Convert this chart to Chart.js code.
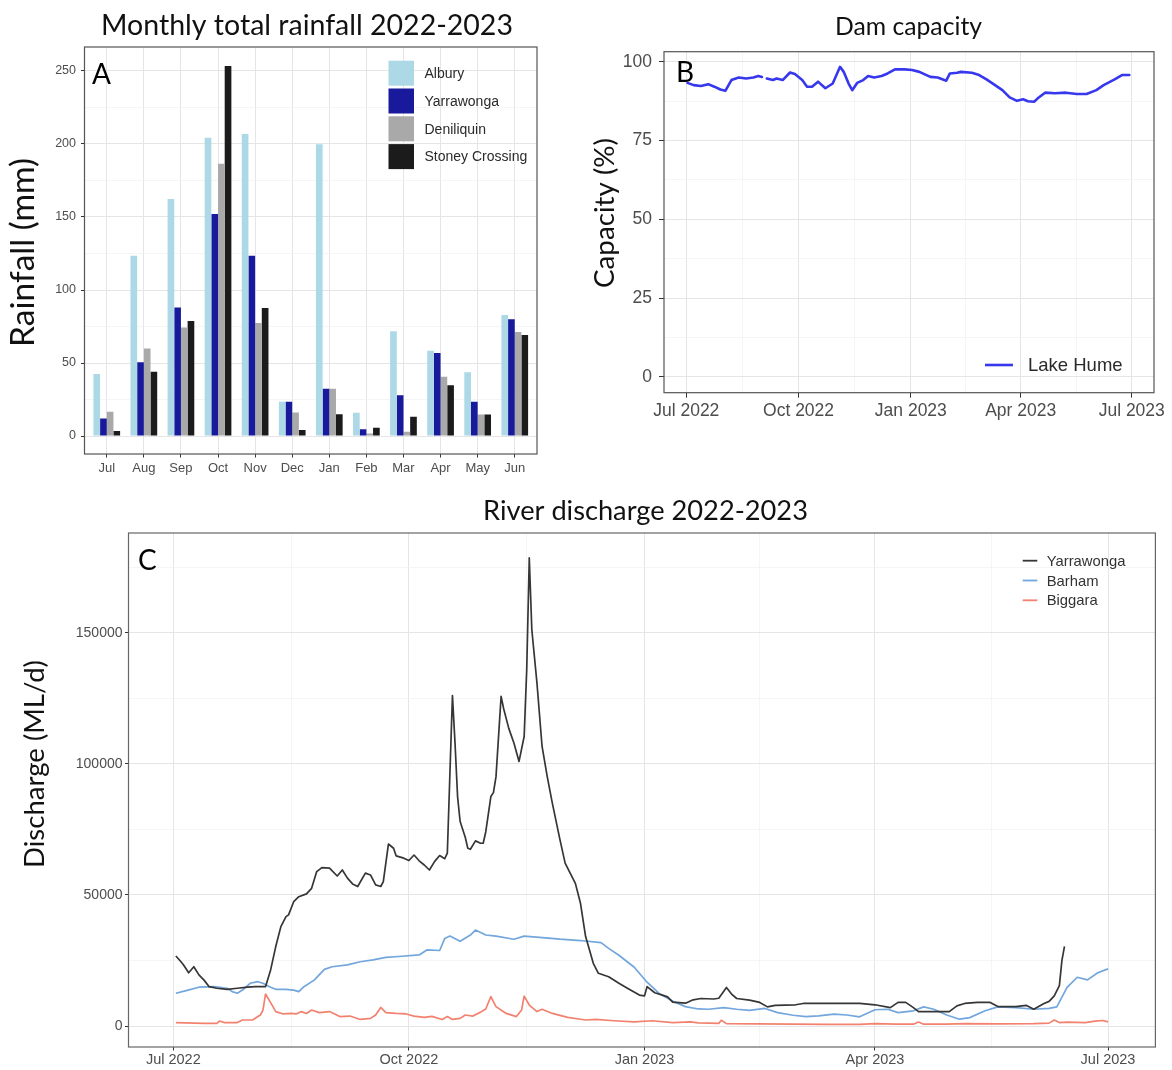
<!DOCTYPE html>
<html><head><meta charset="utf-8">
<script src="https://cdn.jsdelivr.net/npm/chart.js@4.4.1/dist/chart.umd.min.js"></script>
<style>
html,body{margin:0;padding:0;background:#fff;}
#wrap{position:relative;width:1172px;height:1070px;overflow:hidden;background:#fff;}
canvas{position:absolute;left:0;top:0;}
</style></head><body>
<div id="wrap">
<canvas id="cA" width="1172" height="1070"></canvas>
<canvas id="cB" width="1172" height="1070"></canvas>
<canvas id="cC" width="1172" height="1070"></canvas>
</div>
<script>
// ---------------- DATA ----------------
// Panel A: monthly total rainfall (mm)
const months = ['Jul','Aug','Sep','Oct','Nov','Dec','Jan','Feb','Mar','Apr','May','Jun'];
const rainAlbury     = [42.5,123.5,162.3,204.3,206.8,23.5,199.8,16.0,71.7,58.4,43.6,82.9];
const rainYarrawonga = [12.0,50.5,88.0,152.0,123.5,23.5,32.4,4.6,27.9,56.8,23.5,80.0];
const rainDeniliquin = [16.7,60.0,74.4,186.5,77.4,16.2,32.4,1.8,3.0,40.6,14.8,71.2];
const rainStoney     = [3.4,44.0,78.8,253.4,87.7,4.1,15.0,5.7,13.2,34.7,14.8,69.2];

// Panel B: Lake Hume capacity (%)
const humeDates = ['2022-07-02','2022-07-07','2022-07-13','2022-07-19','2022-07-24','2022-07-29','2022-08-02','2022-08-07','2022-08-13','2022-08-19','2022-08-25','2022-08-29','2022-09-01','2022-09-03','2022-09-05','2022-09-10','2022-09-13','2022-09-18','2022-09-24','2022-09-28','2022-10-04','2022-10-08','2022-10-12','2022-10-17','2022-10-20','2022-10-23','2022-10-29','2022-11-04','2022-11-07','2022-11-11','2022-11-14','2022-11-18','2022-11-23','2022-11-27','2022-12-02','2022-12-08','2022-12-13','2022-12-19','2022-12-27','2023-01-02','2023-01-08','2023-01-17','2023-01-23','2023-01-30','2023-02-02','2023-02-08','2023-02-11','2023-02-20','2023-02-26','2023-03-04','2023-03-11','2023-03-17','2023-03-23','2023-03-29','2023-04-03','2023-04-07','2023-04-12','2023-04-15','2023-04-21','2023-04-29','2023-05-08','2023-05-17','2023-05-25','2023-06-02','2023-06-08','2023-06-17','2023-06-23','2023-06-29'];
const humeCapacity = [93.3,92.6,92.3,92.9,92.1,91.2,90.8,94.2,95.0,94.7,95.0,95.5,95.2,null,94.7,94.2,94.7,94.2,96.6,96.1,94.2,92.1,92.1,93.7,92.6,91.6,93.1,98.4,96.8,93.1,91.0,93.3,94.2,95.5,95.0,95.5,96.3,97.6,97.6,97.4,96.8,95.2,95.0,94.0,96.3,96.5,96.8,96.5,95.8,94.4,92.6,91.0,88.7,87.6,88.1,87.5,87.3,88.4,90.2,90.0,90.2,89.8,89.8,91.0,92.6,94.4,95.8,95.8];

// Panel C: river discharge (ML/d)
const yarraDates = ['2022-07-02','2022-07-04','2022-07-05','2022-07-07','2022-07-09','2022-07-11','2022-07-13','2022-07-15','2022-07-18','2022-07-22','2022-07-26','2022-07-30','2022-08-02','2022-08-06','2022-08-08','2022-08-10','2022-08-12','2022-08-14','2022-08-15','2022-08-17','2022-08-19','2022-08-22','2022-08-24','2022-08-26','2022-08-28','2022-08-31','2022-09-03','2022-09-05','2022-09-07','2022-09-09','2022-09-11','2022-09-14','2022-09-16','2022-09-18','2022-09-20','2022-09-21','2022-09-23','2022-09-25','2022-09-26','2022-09-29','2022-10-01','2022-10-03','2022-10-05','2022-10-07','2022-10-09','2022-10-11','2022-10-13','2022-10-15','2022-10-16','2022-10-18','2022-10-19','2022-10-20','2022-10-21','2022-10-23','2022-10-24','2022-10-25','2022-10-27','2022-10-29','2022-10-30','2022-10-31','2022-11-02','2022-11-03','2022-11-04','2022-11-06','2022-11-07','2022-11-09','2022-11-11','2022-11-13','2022-11-15','2022-11-16','2022-11-17','2022-11-18','2022-11-20','2022-11-22','2022-11-24','2022-11-26','2022-11-29','2022-12-01','2022-12-05','2022-12-07','2022-12-09','2022-12-12','2022-12-14','2022-12-18','2022-12-22','2022-12-26','2022-12-30','2023-01-01','2023-01-02','2023-01-05','2023-01-08','2023-01-10','2023-01-12','2023-01-17','2023-01-20','2023-01-23','2023-01-28','2023-01-30','2023-02-02','2023-02-04','2023-02-06','2023-02-11','2023-02-15','2023-02-18','2023-02-21','2023-03-01','2023-03-04','2023-03-13','2023-03-26','2023-04-01','2023-04-07','2023-04-10','2023-04-13','2023-04-16','2023-04-18','2023-04-22','2023-04-30','2023-05-03','2023-05-06','2023-05-11','2023-05-16','2023-05-19','2023-05-26','2023-05-30','2023-06-02','2023-06-06','2023-06-08','2023-06-10','2023-06-12','2023-06-13','2023-06-14'];
const yarraFlow = [26700,24500,23300,20300,22600,19500,17500,15000,14400,14000,14400,14800,15000,15000,21400,30300,37900,41700,42400,47400,49300,50400,52500,58900,60400,60200,57200,59500,56400,54200,53200,58300,57600,53800,53200,55100,69400,67800,64900,64000,63100,65200,63000,61400,59500,62700,65000,63800,65900,126000,108000,87500,78000,72000,67800,67400,70600,69700,69700,74000,87500,89000,95000,125700,121000,113500,107900,100900,110400,135800,178500,151100,130800,106600,95200,85000,71000,62100,54400,46800,34100,23900,20100,18800,16300,14000,11800,11500,15000,12700,11800,11100,9100,8700,10000,10500,10300,10600,14700,12200,10500,9900,9000,7300,7900,8100,8600,8600,8600,8100,7000,9000,9000,7000,5500,5500,5500,7700,8600,9000,9000,7400,7400,7900,6400,8600,9400,11500,15400,25000,30400];

const barhamDates = ['2022-07-02','2022-07-06','2022-07-11','2022-07-17','2022-07-22','2022-07-24','2022-07-26','2022-07-28','2022-07-31','2022-08-03','2022-08-05','2022-08-08','2022-08-10','2022-08-14','2022-08-17','2022-08-19','2022-08-21','2022-08-25','2022-08-29','2022-09-01','2022-09-07','2022-09-12','2022-09-17','2022-09-22','2022-09-27','2022-10-05','2022-10-08','2022-10-13','2022-10-15','2022-10-17','2022-10-21','2022-10-25','2022-10-27','2022-10-31','2022-11-04','2022-11-11','2022-11-15','2022-11-21','2022-11-29','2022-12-07','2022-12-15','2022-12-18','2022-12-22','2022-12-28','2023-01-02','2023-01-07','2023-01-12','2023-01-17','2023-01-22','2023-01-26','2023-02-01','2023-02-06','2023-02-11','2023-02-17','2023-02-22','2023-02-28','2023-03-05','2023-03-10','2023-03-16','2023-03-21','2023-03-26','2023-04-01','2023-04-06','2023-04-10','2023-04-16','2023-04-20','2023-04-24','2023-04-29','2023-05-04','2023-05-08','2023-05-14','2023-05-19','2023-05-26','2023-06-02','2023-06-08','2023-06-11','2023-06-15','2023-06-19','2023-06-23','2023-06-27','2023-07-01'];
const barhamFlow = [12500,13500,14800,15000,14400,13100,12500,13700,16300,16900,16300,14800,14000,14000,13700,13100,15000,17500,21600,22600,23300,24500,25200,26200,26500,27100,29000,28800,33400,34300,32300,34700,36600,34700,34300,33100,34300,33800,33100,32600,31800,29600,27000,22400,16700,12200,9500,7400,6500,6400,7000,6400,6000,6700,5100,4100,3600,3900,4500,4200,3500,6200,6400,5100,5800,7300,6400,4200,2600,3200,5800,7300,7000,6400,6700,7300,14700,18600,17600,20300,21800];

const biggaraDates = ['2022-07-02','2022-07-13','2022-07-18','2022-07-19','2022-07-21','2022-07-26','2022-07-28','2022-08-01','2022-08-03','2022-08-04','2022-08-05','2022-08-06','2022-08-08','2022-08-10','2022-08-13','2022-08-16','2022-08-18','2022-08-20','2022-08-22','2022-08-24','2022-08-27','2022-08-31','2022-09-04','2022-09-08','2022-09-12','2022-09-16','2022-09-18','2022-09-20','2022-09-22','2022-09-26','2022-09-30','2022-10-03','2022-10-07','2022-10-10','2022-10-14','2022-10-16','2022-10-18','2022-10-21','2022-10-23','2022-10-26','2022-10-29','2022-10-31','2022-11-02','2022-11-04','2022-11-08','2022-11-12','2022-11-14','2022-11-15','2022-11-17','2022-11-20','2022-11-22','2022-11-26','2022-12-02','2022-12-09','2022-12-13','2022-12-20','2022-12-28','2023-01-04','2023-01-12','2023-01-19','2023-01-22','2023-01-30','2023-01-31','2023-02-02','2023-02-14','2023-02-28','2023-03-13','2023-03-26','2023-04-01','2023-04-09','2023-04-16','2023-04-18','2023-04-20','2023-04-29','2023-05-06','2023-05-19','2023-06-02','2023-06-08','2023-06-10','2023-06-12','2023-06-15','2023-06-22','2023-06-26','2023-06-29','2023-07-01'];
const biggaraFlow = [1300,1000,1000,1900,1300,1300,2300,2300,3600,4200,6100,12200,8900,5500,4600,4800,4600,5500,4800,6100,5100,5500,3600,3800,2500,2900,4200,7100,5100,4800,4600,3800,3300,3700,2500,3600,2500,2900,4200,3800,5300,6500,11200,7400,4800,3600,6100,11400,8000,5500,6400,4800,3300,2300,2500,2000,1600,2000,1300,1600,1200,1000,2200,900,800,700,600,600,900,700,700,1500,700,700,900,800,900,1100,2300,1300,1500,1300,1900,2100,1600];

// Date-axis tick labels (panels B and C)
const xTickDates  = ['2022-07-01','2022-10-01','2023-01-01','2023-04-01','2023-07-01'];
const xTickLabels = ['Jul 2022','Oct 2022','Jan 2023','Apr 2023','Jul 2023'];
const rainTicks = [0,50,100,150,200,250];
const capTicks = [0,25,50,75,100];
const flowTicks = [0,50000,100000,150000];

// ---------------- HELPERS ----------------
const T0 = Date.UTC(2022,6,1);
function dayOf(s){const p=s.split('-').map(Number);return (Date.UTC(p[0],p[1]-1,p[2])-T0)/864e5;}
const pts = (dates, vals) => dates.map((d,i)=>({x:dayOf(d), y:vals[i]}));
const majorDays = xTickDates.map(dayOf);
const minorDays = majorDays.slice(1).map((d,i)=>(d+majorDays[i])/2);
const minorsOf = (t) => t.slice(1).map((v,i)=>(v+t[i])/2);

const TICK_COL = '#4d4d4d';
const GRID_MAJ = '#e5e5e5', GRID_MIN = '#f0f0f0';

function gridOpts(majorSet, tickLen){
  const isMaj = c => c.tick && majorSet.has(c.tick.value);
  return {
    offset:false, drawOnChartArea:true, drawTicks:true, tickLength:tickLen,
    color: c => isMaj(c) ? GRID_MAJ : GRID_MIN,
    lineWidth: c => isMaj(c) ? 1 : 0.7,
    tickColor: c => isMaj(c) ? '#333' : 'rgba(0,0,0,0)',
    tickWidth: 1
  };
}
function fixX(h){ return s => { s.height = h; s.paddingLeft = 0; s.paddingRight = 0; s.paddingTop = 0; s.paddingBottom = 0; }; }
function fixY(w){ return s => { s.width = w; s.paddingLeft = 0; s.paddingRight = 0; s.paddingTop = 0; s.paddingBottom = 0; }; }

// decoration plugin: panel border, titles, panel letters, legends
const panelDeco = {
  id:'panelDeco',
  afterDraw(chart, args, o){
    const ctx = chart.ctx, a = chart.chartArea;
    ctx.save();
    ctx.strokeStyle = o.borderColor || '#555';
    ctx.lineWidth = 1.2;
    ctx.strokeRect(a.left, a.top, a.right-a.left, a.bottom-a.top);
    (o.texts||[]).forEach(t => {
      const fam = t.family || 'Lato';
      let size = t.size || 24;
      if (t.width){
        ctx.font = `${t.weight||'normal'} 100px ${fam}`;
        size = 100 * t.width / ctx.measureText(t.text).width;
      }
      ctx.font = `${t.weight||'normal'} ${size}px ${fam}`;
      ctx.fillStyle = t.color || '#111';
      ctx.save();
      ctx.translate(t.x, t.y);
      if (t.rotate){ ctx.rotate(-Math.PI/2); ctx.textAlign='center'; ctx.textBaseline='middle'; }
      else { ctx.textAlign = t.align || 'center'; ctx.textBaseline = 'alphabetic'; }
      ctx.fillText(t.text, 0, 0);
      ctx.restore();
    });
    const L = o.legend;
    if (L){
      ctx.font = `${L.size}px ${L.family}`;
      chart.data.datasets.forEach((ds,i) => {
        const y = L.y + i*L.step;
        if (L.type === 'box'){
          ctx.fillStyle = ds.backgroundColor;
          ctx.fillRect(L.x, y, L.keyW, L.keyH);
          ctx.fillStyle = L.color; ctx.textAlign='left'; ctx.textBaseline='middle';
          ctx.fillText(ds.label, L.textX, y + L.keyH/2 + 1);
        } else {
          ctx.strokeStyle = ds.borderColor; ctx.lineWidth = L.lineWidth;
          ctx.beginPath(); ctx.moveTo(L.x, y); ctx.lineTo(L.x + L.keyW, y); ctx.stroke();
          ctx.fillStyle = L.color; ctx.textAlign='left'; ctx.textBaseline='middle';
          ctx.fillText(ds.label, L.textX, y + 1);
        }
      });
    }
    ctx.restore();
  }
};

const base = {responsive:false, animation:false, events:[], maintainAspectRatio:false};
const W = 1172, H = 1070;

// ---------------- PANEL A ----------------
(function(){
  const A = {l:84.5, r:537, t:47, b:454};
  const series = [
    {label:'Albury', values:rainAlbury, color:'#add8e6'},
    {label:'Yarrawonga', values:rainYarrawonga, color:'#19199b'},
    {label:'Deniliquin', values:rainDeniliquin, color:'#a9a9a9'},
    {label:'Stoney Crossing', values:rainStoney, color:'#1b1b1b'}
  ];
  const yMaj = new Set(rainTicks), xMaj = new Set(months.map((m,i)=>i));
  const yAll = rainTicks.concat(minorsOf(rainTicks)).sort((p,q)=>p-q);
  new Chart(document.getElementById('cA'), {
    type:'bar',
    data:{datasets: series.map(s => ({label:s.label, data:s.values.map((v,i)=>({x:i,y:v})), backgroundColor:s.color, borderWidth:0, categoryPercentage:0.72, barPercentage:1.0}))},
    options:{...base,
      layout:{autoPadding:false, padding:{left:0, top:A.t, right:W-A.r, bottom:H-A.b-30}},
      plugins:{legend:{display:false}, tooltip:{enabled:false},
        panelDeco:{borderColor:'#555', texts:[
          {text:'Monthly total rainfall 2022-2023', x:307, y:35, width:412},
          {text:'Rainfall (mm)', x:23, y:252.5, width:189, rotate:true},
          {text:'A', x:92, y:84, size:28, align:'left', color:'#000'}
        ], legend:{type:'box', x:388.5, y:60.7, step:27.8, keyW:25.5, keyH:25, textX:424.5, size:14, family:'Liberation Sans', color:'#2a2a2a'}}},
      scales:{
        x:{type:'linear', offset:false, min:-0.6, max:11.6, afterBuildTicks:s=>{s.ticks = months.map((m,i)=>({value:i}));}, afterFit:fixX(30),
           ticks:{callback:v=>months[v]||'', autoSkip:false, maxRotation:0, padding:3, color:TICK_COL, font:{family:'Liberation Sans', size:13}},
           grid:gridOpts(xMaj,3.5), border:{display:false}},
        y:{type:'linear', min:-12.3, max:266.4, afterBuildTicks:s=>{s.ticks = yAll.map(v=>({value:v}));}, afterFit:fixY(A.l),
           ticks:{callback:v=>yMaj.has(v)?String(v):'', autoSkip:false, padding:5, color:TICK_COL, font:{family:'Liberation Sans', size:12.5}},
           grid:gridOpts(yMaj,3.5), border:{display:false}}
      }
    },
    plugins:[panelDeco]
  });
})();

// ---------------- PANEL B ----------------
(function(){
  const B = {l:664, r:1154, t:51.7, b:392.7};
  const yMaj = new Set(capTicks), xMaj = new Set(majorDays);
  const yAll = capTicks.concat(minorsOf(capTicks)).sort((p,q)=>p-q);
  const xAll = majorDays.concat(minorDays).sort((p,q)=>p-q);
  new Chart(document.getElementById('cB'), {
    type:'line',
    data:{datasets:[{label:'Lake Hume', data:pts(humeDates, humeCapacity), borderColor:'#3737ee', borderWidth:2.6, pointRadius:0, tension:0, spanGaps:false, borderJoinStyle:'round', borderCapStyle:'round'}]},
    options:{...base,
      layout:{autoPadding:false, padding:{left:0, top:B.t, right:W-B.r, bottom:H-B.b-34}},
      plugins:{legend:{display:false}, tooltip:{enabled:false},
        panelDeco:{borderColor:'#555', texts:[
          {text:'Dam capacity', x:908.5, y:35, width:147},
          {text:'Capacity (%)', x:605, y:213, width:150, rotate:true},
          {text:'B', x:676, y:82, size:28, align:'left', color:'#000'}
        ], legend:{type:'line', x:985, y:365, step:0, keyW:28, textX:1028, size:18.5, family:'Liberation Sans', color:'#2a2a2a', lineWidth:2.6}}},
      scales:{
        x:{type:'linear', offset:false, min:-18.25, max:383.25, afterBuildTicks:s=>{s.ticks = xAll.map(v=>({value:v}));}, afterFit:fixX(34),
           ticks:{callback:v=>{const k=majorDays.indexOf(v);return k>=0?xTickLabels[k]:'';}, autoSkip:false, maxRotation:0, padding:2.5, color:TICK_COL, font:{family:'Liberation Sans', size:17.5}},
           grid:gridOpts(xMaj,5), border:{display:false}},
        y:{type:'linear', min:-5, max:103.2, afterBuildTicks:s=>{s.ticks = yAll.map(v=>({value:v}));}, afterFit:fixY(B.l),
           ticks:{callback:v=>yMaj.has(v)?String(v):'', autoSkip:false, padding:7, color:TICK_COL, font:{family:'Liberation Sans', size:17.5}},
           grid:gridOpts(yMaj,5), border:{display:false}}
      }
    },
    plugins:[panelDeco]
  });
})();

// ---------------- PANEL C ----------------
(function(){
  const C = {l:128.5, r:1155.4, t:533, b:1047};
  const yMaj = new Set(flowTicks), xMaj = new Set(majorDays);
  const yAll = flowTicks.concat(minorsOf(flowTicks), [175000]).sort((p,q)=>p-q);
  const xAll = majorDays.concat(minorDays).sort((p,q)=>p-q);
  const mk = (label, data, color) => ({label, data, borderColor:color, borderWidth:1.7, pointRadius:0, tension:0, borderJoinStyle:'round'});
  new Chart(document.getElementById('cC'), {
    type:'line',
    data:{datasets:[
      mk('Yarrawonga', pts(yarraDates, yarraFlow), '#363636'),
      mk('Barham', pts(barhamDates, barhamFlow), '#72a6dc'),
      mk('Biggara', pts(biggaraDates, biggaraFlow), '#f2826f')
    ]},
    options:{...base,
      layout:{autoPadding:false, padding:{left:0, top:C.t, right:W-C.r, bottom:H-C.b-23}},
      plugins:{legend:{display:false}, tooltip:{enabled:false},
        panelDeco:{borderColor:'#666', texts:[
          {text:'River discharge 2022-2023', x:645.5, y:520, width:325},
          {text:'Discharge (ML/d)', x:35, y:764, width:208, rotate:true},
          {text:'C', x:138, y:570, size:28, align:'left', color:'#000'}
        ], legend:{type:'line', x:1022.7, y:560.7, step:19.8, keyW:14.6, textX:1046.7, size:14.8, family:'Liberation Sans', color:'#333', lineWidth:1.8}}},
      scales:{
        x:{type:'linear', offset:false, min:-17.5, max:383.5, afterBuildTicks:s=>{s.ticks = xAll.map(v=>({value:v}));}, afterFit:fixX(23),
           ticks:{callback:v=>{const k=majorDays.indexOf(v);return k>=0?xTickLabels[k]:'';}, autoSkip:false, maxRotation:0, padding:1, color:TICK_COL, font:{family:'Liberation Sans', size:14.5}},
           grid:gridOpts(xMaj,3.5), border:{display:false}},
        y:{type:'linear', min:-8000, max:188000, afterBuildTicks:s=>{s.ticks = yAll.map(v=>({value:v}));}, afterFit:fixY(C.l),
           ticks:{callback:v=>yMaj.has(v)?String(v):'', autoSkip:false, padding:2.5, color:TICK_COL, font:{family:'Liberation Sans', size:14}},
           grid:gridOpts(yMaj,3.5), border:{display:false}}
      }
    },
    plugins:[panelDeco]
  });
})();
</script>
</body></html>
